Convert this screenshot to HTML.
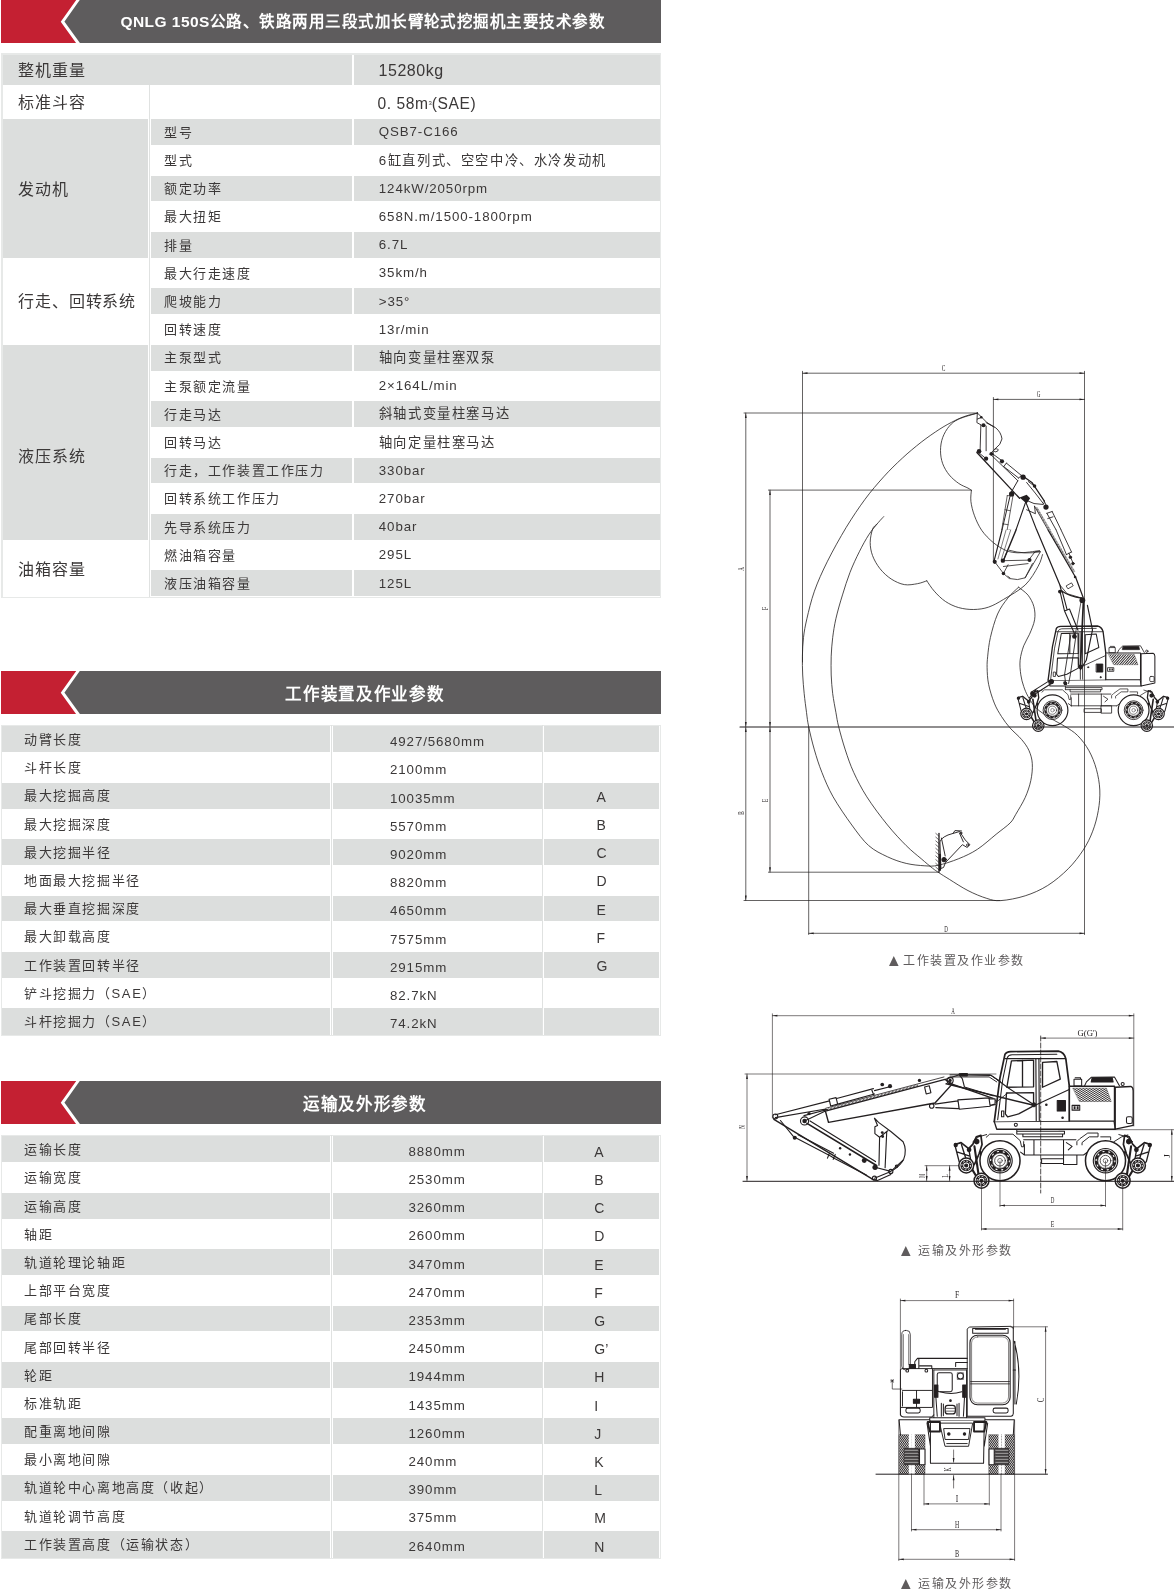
<!DOCTYPE html>
<html lang="zh-CN"><head><meta charset="utf-8"><title>QNLG 150S</title>
<style>
html,body{margin:0;padding:0;background:#fff;}
body{width:1174px;height:1590px;position:relative;overflow:hidden;font-family:"Liberation Sans",sans-serif;color:#3b3838;}
.b{position:absolute;}
#pg{position:absolute;left:0;top:0;width:1174px;height:1590px;will-change:transform;}
.g{position:absolute;background:#dcdedd;}
.t{position:absolute;white-space:nowrap;font-size:13px;letter-spacing:1.6px;line-height:20px;height:20px;}
.v{position:absolute;white-space:nowrap;font-size:13.3px;letter-spacing:0.9px;line-height:20px;height:20px;}
.c{position:absolute;white-space:nowrap;font-size:16px;letter-spacing:0.9px;line-height:22px;height:22px;}
.h{position:absolute;white-space:nowrap;font-size:16px;font-weight:bold;color:#fff;letter-spacing:0.6px;line-height:24px;height:24px;text-align:center;}
.ln{position:absolute;background:#d3d5d4;}
.cap{position:absolute;white-space:nowrap;font-size:12px;letter-spacing:1.5px;color:#5f5c5d;line-height:16px;}
svg{position:absolute;overflow:visible;}
</style></head><body><div id="pg">

<svg class="b" style="left:0;top:0px" width="662" height="43" viewBox="0 0 662 43"><rect x="1" y="0" width="660" height="43" fill="#5e5c5d"/><polygon points="1,0 77.2,0 60.8,21.7 77.2,43 1,43" fill="#c42032"/><polyline points="78.7,-1 62.6,21.7 78.7,44" fill="none" stroke="#fff" stroke-width="3"/></svg>
<div class="h" style="left:62.8px;width:600px;top:10.1px;font-size:15.5px;letter-spacing:0.47px">QNLG 150S公路、铁路两用三段式加长臂轮式挖掘机主要技术参数</div>
<div class="ln" style="left:1.2px;top:53.4px;width:659.6px;height:1.4px;background:#e7e9e8"></div>
<div class="ln" style="left:1.2px;top:53.4px;width:1.4px;height:544.6px;background:#e7e9e8"></div>
<div class="ln" style="left:1.2px;top:596.8px;width:659.6px;height:1.2px;background:#e7e9e8"></div>
<div class="ln" style="left:659.8px;top:53.4px;width:1.1px;height:544.6px;background:#e7e9e8"></div>
<div class="g" style="left:3px;top:55.0px;width:349px;height:29.7px"></div>
<div class="g" style="left:354px;top:55.0px;width:305.5px;height:29.7px"></div>
<div class="c" style="left:18px;top:59.8px;">整机重量</div>
<div class="c" style="left:378.5px;top:60.1px;letter-spacing:0.55px">15280kg</div>
<div class="ln" style="left:148.8px;top:84.7px;width:1.2px;height:34.4px;background:#e0e2e1"></div>
<div class="c" style="left:18px;top:91.8px;">标准斗容</div>
<div class="c" style="left:377.5px;top:91.8px;letter-spacing:0.55px;font-size:15.6px">0. 58m<span style="font-size:6px;vertical-align:4px;letter-spacing:0">3</span>(SAE)</div>
<div class="g" style="left:150.7px;top:119.1px;width:201.3px;height:25.9px"></div>
<div class="g" style="left:354px;top:119.1px;width:305.5px;height:25.9px"></div>
<div class="t" style="left:164px;top:122.8px;">型号</div>
<div class="v" style="left:378.8px;top:122.3px;">QSB7-C166</div>
<div class="t" style="left:164px;top:151.0px;">型式</div>
<div class="v" style="left:378.8px;top:150.5px;letter-spacing:1.6px">6缸直列式、空空中冷、水冷发动机</div>
<div class="g" style="left:150.7px;top:175.5px;width:201.3px;height:25.9px"></div>
<div class="g" style="left:354px;top:175.5px;width:305.5px;height:25.9px"></div>
<div class="t" style="left:164px;top:179.2px;">额定功率</div>
<div class="v" style="left:378.8px;top:178.8px;">124kW/2050rpm</div>
<div class="t" style="left:164px;top:207.4px;">最大扭矩</div>
<div class="v" style="left:378.8px;top:206.9px;">658N.m/1500-1800rpm</div>
<div class="g" style="left:150.7px;top:231.9px;width:201.3px;height:25.9px"></div>
<div class="g" style="left:354px;top:231.9px;width:305.5px;height:25.9px"></div>
<div class="t" style="left:164px;top:235.6px;">排量</div>
<div class="v" style="left:378.8px;top:235.1px;">6.7L</div>
<div class="t" style="left:164px;top:263.9px;">最大行走速度</div>
<div class="v" style="left:378.8px;top:263.4px;">35km/h</div>
<div class="g" style="left:150.7px;top:288.3px;width:201.3px;height:25.9px"></div>
<div class="g" style="left:354px;top:288.3px;width:305.5px;height:25.9px"></div>
<div class="t" style="left:164px;top:292.0px;">爬坡能力</div>
<div class="v" style="left:378.8px;top:291.5px;">&gt;35°</div>
<div class="t" style="left:164px;top:320.2px;">回转速度</div>
<div class="v" style="left:378.8px;top:319.8px;">13r/min</div>
<div class="g" style="left:150.7px;top:344.7px;width:201.3px;height:25.9px"></div>
<div class="g" style="left:354px;top:344.7px;width:305.5px;height:25.9px"></div>
<div class="t" style="left:164px;top:348.4px;">主泵型式</div>
<div class="v" style="left:378.8px;top:347.9px;letter-spacing:1.6px">轴向变量柱塞双泵</div>
<div class="t" style="left:164px;top:376.6px;">主泵额定流量</div>
<div class="v" style="left:378.8px;top:376.1px;">2×164L/min</div>
<div class="g" style="left:150.7px;top:401.1px;width:201.3px;height:25.9px"></div>
<div class="g" style="left:354px;top:401.1px;width:305.5px;height:25.9px"></div>
<div class="t" style="left:164px;top:404.9px;">行走马达</div>
<div class="v" style="left:378.8px;top:404.4px;letter-spacing:1.6px">斜轴式变量柱塞马达</div>
<div class="t" style="left:164px;top:433.0px;">回转马达</div>
<div class="v" style="left:378.8px;top:432.5px;letter-spacing:1.6px">轴向定量柱塞马达</div>
<div class="g" style="left:150.7px;top:457.5px;width:201.3px;height:25.9px"></div>
<div class="g" style="left:354px;top:457.5px;width:305.5px;height:25.9px"></div>
<div class="t" style="left:164px;top:461.2px;">行走，工作装置工作压力</div>
<div class="v" style="left:378.8px;top:460.8px;">330bar</div>
<div class="t" style="left:164px;top:489.4px;">回转系统工作压力</div>
<div class="v" style="left:378.8px;top:488.9px;">270bar</div>
<div class="g" style="left:150.7px;top:513.9px;width:201.3px;height:25.9px"></div>
<div class="g" style="left:354px;top:513.9px;width:305.5px;height:25.9px"></div>
<div class="t" style="left:164px;top:517.6px;">先导系统压力</div>
<div class="v" style="left:378.8px;top:517.1px;">40bar</div>
<div class="t" style="left:164px;top:545.9px;">燃油箱容量</div>
<div class="v" style="left:378.8px;top:545.4px;">295L</div>
<div class="g" style="left:150.7px;top:570.3px;width:201.3px;height:25.9px"></div>
<div class="g" style="left:354px;top:570.3px;width:305.5px;height:25.9px"></div>
<div class="t" style="left:164px;top:574.0px;">液压油箱容量</div>
<div class="v" style="left:378.8px;top:573.5px;">125L</div>
<div class="g" style="left:3px;top:119.1px;width:145px;height:139.0px"></div>
<div class="g" style="left:3px;top:344.7px;width:145px;height:195.2px"></div>
<div class="ln" style="left:148.8px;top:119.1px;width:1.2px;height:478.0px;background:#e0e2e1"></div>
<div class="c" style="left:18px;top:178.8px;">发动机</div>
<div class="c" style="left:18px;top:291.3px;">行走、回转系统</div>
<div class="c" style="left:18px;top:446.3px;">液压系统</div>
<div class="c" style="left:18px;top:558.8px;">油箱容量</div>
<svg class="b" style="left:0;top:671px" width="662" height="43" viewBox="0 0 662 43"><rect x="1" y="0" width="660" height="43" fill="#5e5c5d"/><polygon points="1,0 77.2,0 60.8,21.7 77.2,43 1,43" fill="#c42032"/><polyline points="78.7,-1 62.6,21.7 78.7,44" fill="none" stroke="#fff" stroke-width="3"/></svg>
<div class="h" style="left:64.8px;width:600px;top:682.1px;font-size:16.5px;letter-spacing:0.65px">工作装置及作业参数</div>
<div class="ln" style="left:1.1px;top:724.6px;width:659.7px;height:1.3px;background:#e7e9e8"></div>
<div class="ln" style="left:1.1px;top:724.6px;width:0.9px;height:310.9px;background:#e7e9e8"></div>
<div class="ln" style="left:1.1px;top:1034.8px;width:659.7px;height:1.0px;background:#e7e9e8"></div>
<div class="ln" style="left:659.8px;top:724.6px;width:1px;height:310.9px;background:#e7e9e8"></div>
<div class="ln" style="left:330.9px;top:725.3px;width:1.2px;height:309.5px;background:#e0e2e1"></div>
<div class="ln" style="left:542.2px;top:725.3px;width:1.2px;height:309.5px;background:#e0e2e1"></div>
<div class="g" style="left:1.9px;top:726.3px;width:328.1px;height:25.9px"></div>
<div class="g" style="left:332.6px;top:726.3px;width:209.2px;height:25.9px"></div>
<div class="g" style="left:543.8px;top:726.3px;width:115.7px;height:25.9px"></div>
<div class="t" style="left:24px;top:730.0px;">动臂长度</div>
<div class="v" style="left:390px;top:732.1px;">4927/5680mm</div>
<div class="t" style="left:24px;top:758.2px;">斗杆长度</div>
<div class="v" style="left:390px;top:760.4px;">2100mm</div>
<div class="g" style="left:1.9px;top:782.7px;width:328.1px;height:25.9px"></div>
<div class="g" style="left:332.6px;top:782.7px;width:209.2px;height:25.9px"></div>
<div class="g" style="left:543.8px;top:782.7px;width:115.7px;height:25.9px"></div>
<div class="t" style="left:24px;top:786.4px;">最大挖掘高度</div>
<div class="v" style="left:390px;top:788.5px;">10035mm</div>
<div class="v" style="left:596.5px;top:786.7px;font-size:14px;letter-spacing:0">A</div>
<div class="t" style="left:24px;top:814.6px;">最大挖掘深度</div>
<div class="v" style="left:390px;top:816.8px;">5570mm</div>
<div class="v" style="left:596.5px;top:814.9px;font-size:14px;letter-spacing:0">B</div>
<div class="g" style="left:1.9px;top:839.1px;width:328.1px;height:25.9px"></div>
<div class="g" style="left:332.6px;top:839.1px;width:209.2px;height:25.9px"></div>
<div class="g" style="left:543.8px;top:839.1px;width:115.7px;height:25.9px"></div>
<div class="t" style="left:24px;top:842.8px;">最大挖掘半径</div>
<div class="v" style="left:390px;top:844.9px;">9020mm</div>
<div class="v" style="left:596.5px;top:843.1px;font-size:14px;letter-spacing:0">C</div>
<div class="t" style="left:24px;top:871.0px;">地面最大挖掘半径</div>
<div class="v" style="left:390px;top:873.1px;">8820mm</div>
<div class="v" style="left:596.5px;top:871.3px;font-size:14px;letter-spacing:0">D</div>
<div class="g" style="left:1.9px;top:895.5px;width:328.1px;height:25.9px"></div>
<div class="g" style="left:332.6px;top:895.5px;width:209.2px;height:25.9px"></div>
<div class="g" style="left:543.8px;top:895.5px;width:115.7px;height:25.9px"></div>
<div class="t" style="left:24px;top:899.2px;">最大垂直挖掘深度</div>
<div class="v" style="left:390px;top:901.4px;">4650mm</div>
<div class="v" style="left:596.5px;top:899.5px;font-size:14px;letter-spacing:0">E</div>
<div class="t" style="left:24px;top:927.4px;">最大卸载高度</div>
<div class="v" style="left:390px;top:929.5px;">7575mm</div>
<div class="v" style="left:596.5px;top:927.7px;font-size:14px;letter-spacing:0">F</div>
<div class="g" style="left:1.9px;top:951.9px;width:328.1px;height:25.9px"></div>
<div class="g" style="left:332.6px;top:951.9px;width:209.2px;height:25.9px"></div>
<div class="g" style="left:543.8px;top:951.9px;width:115.7px;height:25.9px"></div>
<div class="t" style="left:24px;top:955.6px;">工作装置回转半径</div>
<div class="v" style="left:390px;top:957.8px;">2915mm</div>
<div class="v" style="left:596.5px;top:955.9px;font-size:14px;letter-spacing:0">G</div>
<div class="t" style="left:24px;top:983.8px;">铲斗挖掘力（SAE）</div>
<div class="v" style="left:390px;top:985.9px;">82.7kN</div>
<div class="g" style="left:1.9px;top:1008.3px;width:328.1px;height:26.5px"></div>
<div class="g" style="left:332.6px;top:1008.3px;width:209.2px;height:26.5px"></div>
<div class="g" style="left:543.8px;top:1008.3px;width:115.7px;height:26.5px"></div>
<div class="t" style="left:24px;top:1012.0px;">斗杆挖掘力（SAE）</div>
<div class="v" style="left:390px;top:1014.1px;">74.2kN</div>
<svg class="b" style="left:0;top:1080.7px" width="662" height="43" viewBox="0 0 662 43"><rect x="1" y="0" width="660" height="43" fill="#5e5c5d"/><polygon points="1,0 77.2,0 60.8,21.7 77.2,43 1,43" fill="#c42032"/><polyline points="78.7,-1 62.6,21.7 78.7,44" fill="none" stroke="#fff" stroke-width="3"/></svg>
<div class="h" style="left:64.8px;width:600px;top:1091.8px;font-size:16.5px;letter-spacing:0.65px">运输及外形参数</div>
<div class="ln" style="left:1.1px;top:1134.6px;width:659.7px;height:1.3px;background:#e7e9e8"></div>
<div class="ln" style="left:1.1px;top:1134.6px;width:0.9px;height:423.7px;background:#e7e9e8"></div>
<div class="ln" style="left:1.1px;top:1557.6px;width:659.7px;height:1.0px;background:#e7e9e8"></div>
<div class="ln" style="left:659.8px;top:1134.6px;width:1px;height:423.7px;background:#e7e9e8"></div>
<div class="ln" style="left:330.9px;top:1135.3px;width:1.2px;height:422.3px;background:#e0e2e1"></div>
<div class="ln" style="left:542.2px;top:1135.3px;width:1.2px;height:422.3px;background:#e0e2e1"></div>
<div class="g" style="left:1.9px;top:1136.3px;width:328.1px;height:25.9px"></div>
<div class="g" style="left:332.6px;top:1136.3px;width:209.2px;height:25.9px"></div>
<div class="g" style="left:543.8px;top:1136.3px;width:115.7px;height:25.9px"></div>
<div class="t" style="left:24px;top:1140.0px;">运输长度</div>
<div class="v" style="left:408.5px;top:1141.8px;">8880mm</div>
<div class="v" style="left:594.3px;top:1141.8px;font-size:14px;letter-spacing:0">A</div>
<div class="t" style="left:24px;top:1168.2px;">运输宽度</div>
<div class="v" style="left:408.5px;top:1170.0px;">2530mm</div>
<div class="v" style="left:594.3px;top:1170.0px;font-size:14px;letter-spacing:0">B</div>
<div class="g" style="left:1.9px;top:1192.7px;width:328.1px;height:25.9px"></div>
<div class="g" style="left:332.6px;top:1192.7px;width:209.2px;height:25.9px"></div>
<div class="g" style="left:543.8px;top:1192.7px;width:115.7px;height:25.9px"></div>
<div class="t" style="left:24px;top:1196.5px;">运输高度</div>
<div class="v" style="left:408.5px;top:1198.2px;">3260mm</div>
<div class="v" style="left:594.3px;top:1198.2px;font-size:14px;letter-spacing:0">C</div>
<div class="t" style="left:24px;top:1224.6px;">轴距</div>
<div class="v" style="left:408.5px;top:1226.3px;">2600mm</div>
<div class="v" style="left:594.3px;top:1226.3px;font-size:14px;letter-spacing:0">D</div>
<div class="g" style="left:1.9px;top:1249.1px;width:328.1px;height:25.9px"></div>
<div class="g" style="left:332.6px;top:1249.1px;width:209.2px;height:25.9px"></div>
<div class="g" style="left:543.8px;top:1249.1px;width:115.7px;height:25.9px"></div>
<div class="t" style="left:24px;top:1252.8px;">轨道轮理论轴距</div>
<div class="v" style="left:408.5px;top:1254.5px;">3470mm</div>
<div class="v" style="left:594.3px;top:1254.5px;font-size:14px;letter-spacing:0">E</div>
<div class="t" style="left:24px;top:1281.0px;">上部平台宽度</div>
<div class="v" style="left:408.5px;top:1282.8px;">2470mm</div>
<div class="v" style="left:594.3px;top:1282.8px;font-size:14px;letter-spacing:0">F</div>
<div class="g" style="left:1.9px;top:1305.5px;width:328.1px;height:25.9px"></div>
<div class="g" style="left:332.6px;top:1305.5px;width:209.2px;height:25.9px"></div>
<div class="g" style="left:543.8px;top:1305.5px;width:115.7px;height:25.9px"></div>
<div class="t" style="left:24px;top:1309.2px;">尾部长度</div>
<div class="v" style="left:408.5px;top:1311.0px;">2353mm</div>
<div class="v" style="left:594.3px;top:1311.0px;font-size:14px;letter-spacing:0">G</div>
<div class="t" style="left:24px;top:1337.5px;">尾部回转半径</div>
<div class="v" style="left:408.5px;top:1339.2px;">2450mm</div>
<div class="v" style="left:594.3px;top:1339.2px;font-size:14px;letter-spacing:0">G’</div>
<div class="g" style="left:1.9px;top:1361.9px;width:328.1px;height:25.9px"></div>
<div class="g" style="left:332.6px;top:1361.9px;width:209.2px;height:25.9px"></div>
<div class="g" style="left:543.8px;top:1361.9px;width:115.7px;height:25.9px"></div>
<div class="t" style="left:24px;top:1365.6px;">轮距</div>
<div class="v" style="left:408.5px;top:1367.3px;">1944mm</div>
<div class="v" style="left:594.3px;top:1367.3px;font-size:14px;letter-spacing:0">H</div>
<div class="t" style="left:24px;top:1393.8px;">标准轨距</div>
<div class="v" style="left:408.5px;top:1395.5px;">1435mm</div>
<div class="v" style="left:594.3px;top:1395.5px;font-size:14px;letter-spacing:0">I</div>
<div class="g" style="left:1.9px;top:1418.3px;width:328.1px;height:25.9px"></div>
<div class="g" style="left:332.6px;top:1418.3px;width:209.2px;height:25.9px"></div>
<div class="g" style="left:543.8px;top:1418.3px;width:115.7px;height:25.9px"></div>
<div class="t" style="left:24px;top:1422.0px;">配重离地间隙</div>
<div class="v" style="left:408.5px;top:1423.8px;">1260mm</div>
<div class="v" style="left:594.3px;top:1423.8px;font-size:14px;letter-spacing:0">J</div>
<div class="t" style="left:24px;top:1450.2px;">最小离地间隙</div>
<div class="v" style="left:408.5px;top:1452.0px;">240mm</div>
<div class="v" style="left:594.3px;top:1452.0px;font-size:14px;letter-spacing:0">K</div>
<div class="g" style="left:1.9px;top:1474.7px;width:328.1px;height:25.9px"></div>
<div class="g" style="left:332.6px;top:1474.7px;width:209.2px;height:25.9px"></div>
<div class="g" style="left:543.8px;top:1474.7px;width:115.7px;height:25.9px"></div>
<div class="t" style="left:24px;top:1478.4px;">轨道轮中心离地高度（收起）</div>
<div class="v" style="left:408.5px;top:1480.1px;">390mm</div>
<div class="v" style="left:594.3px;top:1480.1px;font-size:14px;letter-spacing:0">L</div>
<div class="t" style="left:24px;top:1506.6px;">轨道轮调节高度</div>
<div class="v" style="left:408.5px;top:1508.3px;">375mm</div>
<div class="v" style="left:594.3px;top:1508.3px;font-size:14px;letter-spacing:0">M</div>
<div class="g" style="left:1.9px;top:1531.1px;width:328.1px;height:26.5px"></div>
<div class="g" style="left:332.6px;top:1531.1px;width:209.2px;height:26.5px"></div>
<div class="g" style="left:543.8px;top:1531.1px;width:115.7px;height:26.5px"></div>
<div class="t" style="left:24px;top:1534.8px;">工作装置高度（运输状态）</div>
<div class="v" style="left:408.5px;top:1536.5px;">2640mm</div>
<div class="v" style="left:594.3px;top:1536.5px;font-size:14px;letter-spacing:0">N</div>
<svg class="b" style="left:889.2px;top:956.0px" width="10" height="10" viewBox="0 0 10 10"><polygon points="0,10 9.6,10 4.8,0" fill="#5f5c5d"/></svg>
<div class="cap" style="left:903.4px;top:952.9px">工作装置及作业参数</div>
<svg class="b" style="left:901px;top:1245.8px" width="10" height="10" viewBox="0 0 10 10"><polygon points="0,10 9.6,10 4.8,0" fill="#5f5c5d"/></svg>
<div class="cap" style="left:918.4px;top:1242.7px">运输及外形参数</div>
<svg class="b" style="left:901px;top:1578.6px" width="10" height="10" viewBox="0 0 10 10"><polygon points="0,10 9.6,10 4.8,0" fill="#5f5c5d"/></svg>
<div class="cap" style="left:918.4px;top:1575.5px">运输及外形参数</div>
<svg width="0" height="0" style="left:0;top:0"><defs>
<pattern id="hat" patternUnits="userSpaceOnUse" width="9" height="9" patternTransform="rotate(-58)"><rect width="9" height="9" fill="#fff"/><rect width="4.3" height="9" fill="#231f20"/></pattern>
<pattern id="hat2" patternUnits="userSpaceOnUse" width="12" height="12" patternTransform="rotate(35)"><rect width="12" height="12" fill="#fff"/><rect width="7" height="12" fill="#231f20"/></pattern>
<g id="whl" fill="none" stroke="#231f20"><circle r="105" stroke-width="8" fill="#fff"/><circle r="64" stroke-width="6"/><circle r="49" stroke-width="16"/><circle r="49" stroke-width="6" stroke="#fff" stroke-dasharray="6 24.8"/><circle r="40" stroke-width="3"/><circle r="28" stroke-width="4"/><circle r="12" stroke-width="3"/></g>
<g id="rwh" fill="none" stroke="#231f20"><circle r="39" stroke-width="8" fill="#fff"/><circle r="23" stroke-width="15"/><circle r="23" stroke-width="5" stroke="#fff" stroke-dasharray="5 13.06"/><circle r="8" fill="#231f20"/></g>
<g id="brk" fill="none" stroke="#231f20" stroke-width="9"><path d="M25,600L58,590L98,622L120,598L138,560L162,552L168,600L152,650L130,700L112,720"/><path d="M25,600L48,690L62,705M60,600L85,680M98,622L110,690M40,640L100,660" stroke-width="7"/><path d="M128,610L150,760M160,640L188,765M110,720L140,770" stroke-width="11"/><path d="M120,585L150,560L192,548" stroke-width="5"/><circle cx="140" cy="585" r="10" fill="#231f20"/><circle cx="100" cy="628" r="8" fill="#231f20"/><circle cx="30" cy="603" r="7" fill="#231f20"/></g>
<g id="mach" fill="none" stroke="#231f20" stroke-width="5.5" stroke-linejoin="round" stroke-linecap="round">
<path d="M350,522L350,545M352,531L600,531L600,545L352,545M382,545L382,560L590,560L590,545" />
<path d="M190,562L208,546L330,546L368,580L375,612L386,612L386,585M665,602L665,585L680,570L722,540L776,540L776,560L730,560L692,590L692,602M790,560L842,560L842,575M860,585L900,560L932,550" stroke-width="5"/>
<path d="M386,575L660,575M390,655L700,655M390,600L390,655M440,575L440,655M595,575L595,655M595,655L665,655L665,705L595,705ZM480,675L595,675L595,700L480,700ZM370,640L390,655M610,590L640,610L620,628M700,655L720,640"/>
<use href="#brk"/><use href="#brk" transform="translate(1077,0) scale(-1,1)"/>
<use href="#rwh" x="85" y="710"/><use href="#rwh" x="985" y="710"/>
<use href="#whl" x="262" y="685"/><use href="#whl" x="815" y="685"/>
<use href="#rwh" x="165" y="790"/><use href="#rwh" x="905" y="790"/>
<path d="M232,480L860,476M232,480L245,520L866,520M860,476L866,520" stroke-width="7" fill="#fff"/>
<circle cx="345" cy="497" r="8"/>
<path d="M232,480L240,420L262,250L288,128Q294,115 318,113L568,111Q598,116 607,150L625,292L625,476" stroke-width="9" fill="#fff"/>
<path d="M250,470L276,262L300,146Q305,132 325,130L560,127M290,150L605,150" stroke-width="5.5"/>
<path d="M322,162L438,158L438,298L298,300ZM380,160L380,298M296,330L438,328L438,398L360,440L302,455L290,440ZM485,170L560,165L578,258L485,300Z" stroke-width="7"/>
<path d="M450,150L452,474M466,150L468,474" stroke-width="6"/>
<path d="M452,392L625,312M270,425L282,425L282,455L270,455Z"/>
<path d="M625,295L862,295L862,476M866,300L948,296Q960,300 960,318L960,500L866,520L866,300" stroke-width="7" fill="#fff"/>
<path d="M645,305L820,305L845,375L680,375Z" fill="url(#hat)" stroke-width="2"/>
<path d="M650,258L690,258L690,293L650,293ZM656,250L684,250L684,258M705,293L715,272L740,248L862,246L888,292"/>
<path d="M745,250L850,250L855,272L740,272Z" fill="#231f20"/><circle cx="905" cy="283" r="8"/>
<path d="M562,370L605,370L605,425L562,425Z" fill="#231f20"/><path d="M640,395L680,395L680,420L640,420Z"/><path d="M648,400L658,400L658,415L648,415ZM664,400L674,400L674,415L664,415Z" fill="#231f20" stroke="none"/>
<rect x="925" y="455" width="30" height="35" rx="8"/><circle cx="590" cy="460" r="4" fill="#231f20"/><circle cx="505" cy="392" r="4" fill="#231f20"/>
</g>
<pattern id="hat3" patternUnits="userSpaceOnUse" width="8" height="11"><rect width="8" height="11" fill="#fff"/><rect width="8" height="8" fill="#231f20"/></pattern>
</defs></svg>
<svg style="left:0;top:0" width="1174" height="1000" viewBox="0 0 1174 1000" fill="none" stroke="#231f20" stroke-linecap="round" stroke-linejoin="round">
<use href="#mach" transform="translate(1014.07,609.73) scale(0.14667)"/>
<g transform="translate(1014.07,609.73) scale(0.14667)" stroke-width="7"><path d="M120,560L250,478M135,580L262,498M105,600L150,545"/><circle cx="255" cy="490" r="14" fill="#231f20"/><circle cx="125" cy="572" r="12" fill="#231f20"/></g>
<clipPath id="clA"><rect x="0" y="0" width="1400" height="1420"/></clipPath><g transform="translate(965,405) scale(0.08803)" stroke-width="10" clip-path="url(#clA)"><path d="M140,90L185,135L250,200L350,260Q410,310 420,385Q410,450 340,500L280,560M140,90L135,200L180,225M140,160L190,140M240,200L330,250M340,500Q385,490 375,520Q350,545 328,525"/><path d="M180,230L172,505M240,240L240,520"/><path d="M135,540L620,1060" stroke-width="15"/><path d="M300,545L430,640M470,660L640,800M440,700L610,830M470,660L440,700M640,800L610,830M300,570L600,860M160,545L240,610"/><path d="M660,810L760,880L900,1090" stroke-width="14"/><path d="M690,1080Q780,1135 890,1130Q905,1110 900,1090M700,880Q800,1000 890,1120M720,870L800,930"/><path d="M600,860L520,1000L380,1590" stroke-width="11"/><path d="M690,1100L520,1590" stroke-width="13"/><path d="M480,1030L390,1590M545,1030L450,1590M480,1030L545,1030M455,1190L510,1200M430,1350L490,1360M500,1420L540,1430M470,1520L515,1530" stroke-width="8"/><path d="M690,1100L880,1590" stroke-width="13"/><path d="M790,1150L1040,1590" stroke-width="9"/><path d="M812,1165L1062,1590" stroke-width="22" stroke-dasharray="4 5" stroke-linecap="butt"/><path d="M700,1190L800,1235L790,1150M930,1230L1130,1590M990,1210L1160,1560M930,1230L990,1210M900,1090L935,1170M940,1290L1000,1270"/><g fill="#231f20" stroke="none"><circle cx="210" cy="230" r="24"/><circle cx="160" cy="525" r="26"/><circle cx="300" cy="555" r="22"/><circle cx="240" cy="610" r="24"/><circle cx="420" cy="640" r="24"/><circle cx="660" cy="820" r="30"/><path d="M620,1050L700,1020L740,1060L700,1120Z"/><circle cx="530" cy="1010" r="30"/><circle cx="920" cy="1160" r="30"/><circle cx="790" cy="920" r="20"/><circle cx="185" cy="140" r="14"/></g></g>
<g transform="translate(960,530) scale(0.1448)" stroke-width="5.5"><path d="M290,0L235,215" stroke-width="8"/><path d="M387,0L300,210" stroke-width="10"/><path d="M318,0L262,200M350,0L285,205" stroke-width="4"/><path d="M240,220L300,300L340,335Q400,352 450,330L555,150L520,148L480,200M295,212L480,208M300,252L470,232M300,300L332,240M450,330L500,232M340,140Q450,172 555,150M325,150L300,210M330,320L345,330"/><path d="M530,0L690,380L700,420Q760,462 840,470" stroke-width="8.5"/><path d="M608,0L800,330L850,465" stroke-width="8.5"/><path d="M616,0L790,290" stroke-width="14" stroke-dasharray="2.5 3" stroke-linecap="butt"/><path d="M664,0L735,170M698,0L770,152M735,170L770,152M752,160L778,222" stroke-width="6"/><circle cx="762" cy="188" r="9" fill="#231f20"/><circle cx="780" cy="232" r="9" fill="#231f20"/><path d="M690,420L722,560L795,725M756,546L815,692M722,560L756,546M705,420L740,552" stroke-width="7.5"/><path d="M735,385L770,365L782,385L748,405ZM690,380L740,440L840,470"/><path d="M835,500L800,700L790,735" stroke-width="5"/><path d="M852,500L832,940" stroke-width="12"/><path d="M880,520L915,690L872,900L832,965" stroke-width="8"/><path d="M815,720L818,930" stroke-width="6"/><path d="M765,725L722,1000L730,1062M800,735L762,1000L750,1060" stroke-width="6"/><g fill="#231f20" stroke="none"><circle cx="240" cy="220" r="14"/><circle cx="296" cy="212" r="15"/><circle cx="480" cy="207" r="14"/><circle cx="300" cy="300" r="12"/><circle cx="845" cy="485" r="20"/><circle cx="690" cy="425" r="13"/><circle cx="790" cy="735" r="16"/><circle cx="832" cy="945" r="16"/><circle cx="728" cy="1060" r="13"/><circle cx="795" cy="325" r="9"/></g></g>
<path d="M802.5,373.2L1084.5,373.2M802.5,371.3L802.5,662M1084.5,371.3L1084.5,934.5M993.4,399.4L1084.5,399.4M993.4,397.5L993.4,562M744,413L977.4,413M745.8,413L745.8,900.5M768.4,490.1L971,490.1M770,490.1L770,872.2M768.4,872.2L939,872.2M744,900.5L1000,900.5M808.7,727L808.7,934.5M808.7,933.3L1084.5,933.3" stroke-width="0.7"/>
<path d="M740,727L1174,727" stroke-width="1.15"/>
<path d="M802.5,373.2L807.5,372.3L807.5,374.1ZM1084.5,373.2L1079.5,374.1L1079.5,372.3ZM993.4,399.4L998.4,398.5L998.4,400.3ZM1084.5,399.4L1079.5,400.3L1079.5,398.5ZM745.8,413L746.7,418.0L744.9,418.0ZM745.8,727L744.9,722.0L746.7,722.0ZM745.8,727L746.7,732.0L744.9,732.0ZM745.8,900.5L744.9,895.5L746.7,895.5ZM770,490.1L770.9,495.1L769.1,495.1ZM770,727L769.1,722.0L770.9,722.0ZM770,727L770.9,732.0L769.1,732.0ZM770,872.2L769.1,867.2L770.9,867.2ZM808.7,933.3L813.7,932.4L813.7,934.2ZM1084.5,933.3L1079.5,934.2L1079.5,932.4Z" fill="#231f20" stroke="none"/>
<path d="M883.7,516.6C882.8,517.6 880.6,519.8 878.1,522.8C875.6,525.8 871.8,530.1 868.7,534.9C865.6,539.7 862.4,545.5 859.3,551.8C856.2,558.0 852.8,565.2 850.0,572.4C847.2,579.6 844.9,587.2 842.5,594.9C840.1,602.6 837.5,611.6 835.9,618.7C834.3,625.8 833.5,631.2 832.7,637.5C831.9,643.8 831.5,650.0 831.2,656.2C831.0,662.5 831.0,668.8 831.2,675.0C831.5,681.2 831.9,687.5 832.7,693.7C833.5,699.9 834.9,706.9 835.9,712.4C836.9,717.9 837.1,720.6 838.7,726.9C840.3,733.1 842.8,742.3 845.3,749.9C847.8,757.5 850.1,764.6 853.7,772.4C857.3,780.2 861.2,788.0 866.8,796.8C872.4,805.6 880.9,816.9 887.5,825.0C894.1,833.1 900.6,840.0 906.2,845.6C911.8,851.2 916.8,855.0 921.2,858.7C925.6,862.5 929.4,865.8 932.4,868.1C935.4,870.5 936.2,870.9 939.0,872.8C941.8,874.7 944.5,876.3 949.3,879.3C954.1,882.3 961.8,887.4 968.0,890.6C974.2,893.8 981.3,896.7 986.8,898.4C992.3,900.1 994.4,901.0 1000.8,900.6C1007.2,900.2 1017.4,898.3 1025.2,895.8C1033.0,893.3 1040.5,890.0 1047.7,885.5C1054.9,881.0 1062.4,874.6 1068.3,868.7C1074.2,862.8 1079.2,856.1 1083.3,849.9C1087.4,843.6 1090.2,837.8 1092.7,831.2C1095.2,824.7 1097.1,817.5 1098.3,810.6C1099.5,803.7 1100.1,796.9 1099.8,790.0C1099.5,783.1 1098.2,775.9 1096.4,769.3C1094.6,762.7 1092.0,756.2 1088.9,750.6C1085.8,745.0 1081.8,739.7 1077.7,735.6C1073.7,731.5 1069.0,729.0 1064.6,726.2C1060.2,723.4 1056.1,721.7 1051.4,718.7C1046.7,715.7 1040.4,712.1 1036.5,708.4C1032.6,704.7 1030.2,700.2 1028.1,696.5C1026.0,692.8 1024.9,690.0 1023.7,686.4C1022.5,682.8 1021.4,679.1 1020.8,674.8C1020.2,670.4 1019.6,665.1 1020.1,660.3C1020.6,655.5 1022.1,650.1 1023.7,645.8C1025.3,641.5 1027.7,638.6 1029.5,634.3C1031.3,630.0 1033.9,624.4 1034.6,619.8C1035.3,615.2 1035.0,610.8 1033.9,606.7C1032.8,602.6 1030.6,598.5 1028.1,595.2C1025.5,592.0 1020.2,588.5 1018.6,587.2 M977.4,413.1C975.5,413.6 970.0,414.6 966.2,415.9C962.5,417.1 959.3,418.4 954.9,420.6C950.5,422.8 945.5,425.4 939.9,429.0C934.3,432.6 927.5,437.3 921.2,442.2C915.0,447.1 908.6,452.3 902.4,458.1C896.1,463.9 889.9,469.9 883.7,476.8C877.5,483.7 871.2,490.9 865.0,499.3C858.8,507.7 852.5,517.1 846.2,527.4C840.0,537.7 832.8,550.6 827.5,561.2C822.2,571.8 817.8,581.6 814.4,591.2C811.0,600.8 808.7,611.0 806.9,618.7C805.1,626.4 804.2,631.2 803.5,637.5C802.8,643.8 802.5,650.0 802.4,656.2C802.3,662.5 802.4,668.8 802.7,675.0C803.0,681.2 803.6,687.5 804.2,693.7C804.8,699.9 805.8,706.9 806.5,712.4C807.2,717.9 807.4,720.6 808.7,726.9C810.0,733.1 812.2,742.3 814.4,749.9C816.6,757.5 818.8,764.6 821.9,772.4C825.0,780.2 828.1,788.0 833.1,796.8C838.1,805.6 845.9,816.9 851.8,825.0C857.7,833.1 862.8,840.3 868.7,845.6C874.7,850.9 881.2,853.8 887.5,856.8C893.8,859.8 900.0,861.9 906.2,863.4C912.4,864.9 919.6,865.5 924.9,865.8C930.2,866.1 932.4,866.5 938.0,865.3C943.6,864.1 952.1,861.4 958.7,858.7C965.3,856.0 971.2,853.4 977.4,849.3C983.6,845.2 990.7,838.7 996.1,834.3C1001.5,829.9 1006.7,826.4 1010.0,823.1C1013.3,819.8 1013.3,818.6 1015.8,814.3C1018.3,810.0 1022.7,803.1 1025.2,797.5C1027.7,791.9 1029.6,786.2 1030.8,780.6C1032.0,775.0 1032.6,768.7 1032.3,763.7C1032.0,758.7 1030.8,754.7 1029.0,750.6C1027.2,746.5 1024.6,743.1 1021.5,739.4C1018.4,735.6 1013.5,731.9 1010.2,728.1C1006.9,724.3 1004.1,720.7 1001.5,716.5C998.9,712.3 996.4,708.5 994.3,703.1C992.1,697.7 989.8,690.2 988.6,684.3C987.4,678.4 987.2,672.2 987.1,667.5C987.0,662.8 987.2,661.2 987.7,656.2C988.2,651.2 988.8,644.5 990.4,637.5C992.0,630.5 994.7,620.6 997.6,614.0C1000.5,607.4 1004.3,602.6 1007.8,598.1C1011.3,593.6 1016.8,589.0 1018.6,587.2 M977.4,413.1C974.3,414.1 963.4,416.9 958.7,419.1C954.0,421.3 952.0,423.1 949.3,426.2C946.6,429.3 944.2,433.4 942.7,437.5C941.2,441.6 940.5,446.2 940.5,450.6C940.5,455.0 941.2,459.6 942.7,463.7C944.2,467.8 946.6,471.7 949.3,475.0C952.0,478.3 955.6,481.2 958.7,483.4C961.8,485.6 965.9,487.0 968.0,488.1C970.1,489.2 970.8,489.9 971.4,490.3 M971.4,490.3C971.3,492.1 970.4,497.1 970.9,501.4C971.4,505.6 972.7,511.0 974.5,515.8C976.3,520.6 978.6,525.8 981.7,530.3C984.8,534.8 989.2,539.2 993.3,542.6C997.4,546.0 1002.2,548.9 1006.3,550.6C1010.4,552.3 1014.0,552.6 1017.9,552.8C1021.8,553.0 1025.9,552.4 1029.5,552.0C1033.1,551.6 1037.9,550.8 1039.6,550.6 M1042.5,554.6C1041.8,556.5 1041.1,561.1 1038.2,566.2C1035.3,571.3 1031.0,579.5 1025.2,585.0C1019.4,590.5 1009.5,595.8 1003.4,599.5C997.3,603.2 993.5,605.4 988.6,607.1C983.7,608.8 978.7,609.4 973.7,609.5C968.7,609.6 963.4,608.9 958.7,607.6C954.0,606.3 949.6,604.2 945.5,601.5C941.4,598.8 937.4,594.7 934.3,591.2C931.2,587.8 928.0,582.5 926.8,580.8 M926.8,580.8C925.2,581.3 921.1,583.1 917.4,583.7C913.6,584.3 908.7,585.4 904.3,584.6C899.9,583.8 895.2,581.6 891.2,579.0C887.2,576.4 883.1,572.6 880.0,568.7C876.9,564.8 874.1,559.9 872.5,555.5C870.9,551.1 870.2,546.8 870.2,542.4C870.2,538.0 871.5,532.3 872.5,529.3C873.5,526.3 875.8,525.3 876.5,524.5" stroke-width="0.8"/>
<g fill="#231f20" stroke="none" font-family="Liberation Serif,serif" font-size="8.5"><text x="943.5" y="371" text-anchor="middle" textLength="3.6" lengthAdjust="spacingAndGlyphs">C</text><text x="1038.5" y="397" text-anchor="middle" textLength="3.6" lengthAdjust="spacingAndGlyphs">G</text><text x="946" y="931.5" text-anchor="middle" textLength="3.6" lengthAdjust="spacingAndGlyphs">D</text><text transform="translate(744,569) rotate(-90)" text-anchor="middle" textLength="3.6" lengthAdjust="spacingAndGlyphs">A</text><text transform="translate(768,608.5) rotate(-90)" text-anchor="middle" textLength="3.6" lengthAdjust="spacingAndGlyphs">F</text><text transform="translate(768,800.5) rotate(-90)" text-anchor="middle" textLength="3.6" lengthAdjust="spacingAndGlyphs">E</text><text transform="translate(744,813) rotate(-90)" text-anchor="middle" textLength="3.6" lengthAdjust="spacingAndGlyphs">B</text></g>
<g transform="translate(790,780) scale(0.18741)" stroke-width="5"><path d="M795,285L795,492" stroke-width="7"/><path d="M795,300L778,285M795,320L778,305M795,340L778,325M795,360L778,345M795,380L778,365M795,400L778,385M795,420L778,405M795,440L778,425M795,460L778,445M795,480L778,465" stroke-width="3.5"/><path d="M805,470L800,330Q810,300 870,285L905,275L935,320L960,345L945,360L920,345L830,440L820,465ZM808,310L828,405M905,285L925,330M870,285L880,270L915,272"/><circle cx="822" cy="425" r="12" fill="#231f20"/><path d="M800,400L800,480" stroke-width="12"/><circle cx="948" cy="347" r="6"/><circle cx="912" cy="283" r="5"/></g>
</svg>
<svg style="left:0;top:0" width="1174" height="1270" viewBox="0 0 1174 1270" fill="none" stroke="#231f20" stroke-linecap="round" stroke-linejoin="round">
<use href="#mach" transform="translate(950,1030) scale(0.1908)"/>
<g transform="translate(950,1030) scale(0.1908)" stroke-width="4.5"><path d="M0,235L210,235L250,262M0,246L205,246L245,272" stroke-width="5"/><path d="M-20,282L440,395" stroke-width="8"/><path d="M250,262L300,300L440,392" stroke-width="6"/><path d="M45,370L208,360L214,396L50,410ZM214,370L240,368L245,390L214,396M240,380L300,332" fill="#fff"/><path d="M50,228L90,228L90,240L50,240Z" fill="#231f20"/><circle cx="440" cy="392" r="11" fill="#231f20"/><circle cx="222" cy="380" r="9" fill="#231f20"/></g>
<g transform="translate(760,1060) scale(0.20442)" stroke-width="5.5"><path d="M320,250L905,95L940,118L856,210L335,305Z" stroke-width="7"/><path d="M322,236L900,83" stroke-width="4"/><path d="M336,240L772,124" stroke-width="9" stroke-dasharray="3 4" stroke-linecap="butt"/><path d="M805,132L828,126L836,160L813,166Z"/><path d="M75,268L340,200M75,282L322,240M338,192L372,184L380,216L346,225ZM375,188L555,140M380,216L560,166M545,142L556,170M560,150L640,130M218,298L320,250M215,272L330,242"/><path d="M68,290L548,582" stroke-width="7"/><path d="M230,310L570,516" stroke-width="8.5"/><path d="M100,296L162,372M245,298L565,497"/><path d="M165,376L345,470L365,482L520,562M186,366L360,456M340,456L330,480M368,462L358,486" /><path d="M560,578L640,545L700,490M563,525L640,545M548,582L575,590L640,560"/><path d="M560,285L580,305L640,350L700,400Q720,440 703,485Q690,512 650,540M560,285L575,320L562,326L562,360L585,378L582,515M585,378L625,346M620,350L612,527"/><path d="M940,118L1140,188" stroke-width="7"/><path d="M905,95L975,72L1130,75L1176,106M975,72L990,92L1000,132M1000,132L1140,175"/><path d="M856,216L968,200M860,233L970,238M968,195L1120,185L1126,226L975,241ZM1120,190L1150,190L1150,216L1126,221" fill="#fff"/><g fill="#231f20" stroke="none"><circle cx="598" cy="120" r="9"/><circle cx="636" cy="128" r="10"/><circle cx="780" cy="100" r="8"/><circle cx="218" cy="298" r="11"/><circle cx="930" cy="100" r="8"/><circle cx="563" cy="525" r="13"/><circle cx="510" cy="492" r="12"/><circle cx="170" cy="380" r="10"/><circle cx="598" cy="355" r="7"/><circle cx="600" cy="374" r="7"/><path d="M985,64L1016,64L1016,80L985,80Z"/><circle cx="392" cy="432" r="6"/><circle cx="440" cy="462" r="6"/><circle cx="240" cy="262" r="8"/></g><circle cx="75" cy="276" r="12"/><circle cx="218" cy="298" r="20"/><circle cx="930" cy="100" r="15"/><circle cx="840" cy="225" r="11"/><circle cx="560" cy="578" r="10"/><circle cx="640" cy="545" r="10"/><circle cx="668" cy="520" r="6"/></g>
<path d="M772.4,1015.7L1133.8,1015.7M772.4,1013.8L772.4,1118M1133.8,1013.8L1133.8,1126M1040.7,1038.1L1133.8,1038.1M745,1074L996,1074M747,1074L747,1181M1059,1129.7L1174,1129.7M1171.8,1129.7L1171.8,1181M925,1165.7L958,1165.7M926.7,1165.7L926.7,1181M949.6,1165.7L949.6,1181M1000,1161L1000,1206.5M1105.5,1161L1105.5,1206.5M1000,1205.5L1105.5,1205.5M981.5,1181L981.5,1230M1122.7,1181L1122.7,1230M981.5,1229L1122.7,1229" stroke-width="0.6"/>
<path d="M1040.7,1036L1040.7,1193" stroke-width="0.8" stroke-dasharray="5 2"/>
<path d="M743,1181.3L1174,1181.3" stroke-width="1"/>
<path d="M772.4,1015.7L777.4,1014.8L777.4,1016.6ZM1133.8,1015.7L1128.8,1016.6L1128.8,1014.8ZM1040.7,1038.1L1045.7,1037.2L1045.7,1039.0ZM1133.8,1038.1L1128.8,1039.0L1128.8,1037.2ZM747,1074L747.9,1079.0L746.1,1079.0ZM747,1181L746.1,1176.0L747.9,1176.0ZM1171.8,1129.7L1172.7,1134.7L1170.9,1134.7ZM1171.8,1181L1170.9,1176.0L1172.7,1176.0ZM926.7,1165.7L927.6,1170.7L925.8,1170.7ZM926.7,1181L925.8,1176.0L927.6,1176.0ZM949.6,1165.7L950.5,1170.7L948.7,1170.7ZM949.6,1181L948.7,1176.0L950.5,1176.0ZM1000,1205.5L1005.0,1204.6L1005.0,1206.4ZM1105.5,1205.5L1100.5,1206.4L1100.5,1204.6ZM981.5,1229L986.5,1228.1L986.5,1229.9ZM1122.7,1229L1117.7,1229.9L1117.7,1228.1Z" fill="#231f20" stroke="none"/>
<g fill="#231f20" stroke="none" font-family="Liberation Serif,serif" font-size="9"><text x="953" y="1013.5" text-anchor="middle" textLength="3.6" lengthAdjust="spacingAndGlyphs">A</text><text x="1087.5" y="1035.5" text-anchor="middle" textLength="20" lengthAdjust="spacingAndGlyphs">G(G')</text><text transform="translate(745,1127) rotate(-90)" text-anchor="middle" textLength="3.6" lengthAdjust="spacingAndGlyphs">N</text><text transform="translate(924.5,1176) rotate(-90)" text-anchor="middle" textLength="3.6" lengthAdjust="spacingAndGlyphs">M</text><text transform="translate(947.5,1176) rotate(-90)" text-anchor="middle" textLength="3.6" lengthAdjust="spacingAndGlyphs">L</text><text x="1052.5" y="1203" text-anchor="middle" textLength="3.6" lengthAdjust="spacingAndGlyphs">D</text><text x="1052.5" y="1227" text-anchor="middle" textLength="3.6" lengthAdjust="spacingAndGlyphs">E</text><text transform="translate(1169.5,1156) rotate(-90)" text-anchor="middle" textLength="3.6" lengthAdjust="spacingAndGlyphs">J</text></g>
</svg>
<svg style="left:0;top:0" width="1174" height="1590" viewBox="0 0 1174 1590" fill="none" stroke="#231f20" stroke-linecap="round" stroke-linejoin="round">
<g transform="translate(880,1310) scale(0.13629)" stroke-width="7.5"><path d="M142,915L330,915L330,1205L142,1205ZM800,915L985,915L985,1205L800,1205Z" fill="url(#hat2)" stroke-width="3"/><path d="M222,915L222,1205M245,915L245,1205M880,915L880,1205M905,915L905,1205" stroke="#fff" stroke-width="22"/><path d="M180,1015L282,1015L282,1135L180,1135ZM845,1015L945,1015L945,1135L845,1135Z" fill="url(#hat3)" stroke-width="5"/><path d="M290,1020L330,1020L330,1135L290,1135ZM800,1020L838,1020L838,1135L800,1135Z" fill="#fff"/><path d="M140,805L365,805M770,805L985,805M140,805L150,915M985,805L978,915M365,790L770,790L770,815L365,815Z"/><path d="M370,815L370,1125L760,1125L765,815M345,830L370,1000M790,830L765,1000" fill="#fff"/><path d="M350,822L440,822L440,892L365,892ZM690,822L780,822L765,892L690,892Z" stroke-width="14"/><path d="M440,830L680,830L650,1000L480,1000ZM470,870L660,870L650,950L480,950ZM490,980L640,980" stroke-width="7"/><circle cx="505" cy="910" r="9" fill="#231f20"/><circle cx="620" cy="910" r="9" fill="#231f20"/><path d="M150,715L150,768Q155,785 175,785L380,785L395,770M640,780L962,780Q978,775 978,760L978,125" /><rect x="190" y="720" width="105" height="35" rx="14"/><rect x="830" y="720" width="110" height="35" rx="14"/><path d="M640,780L640,140L655,125L960,120L978,135" stroke-width="7"/><path d="M680,135L940,135L940,170L680,170Z"/><path d="M700,140L920,140" stroke-width="9"/><rect x="660" y="185" width="295" height="510" rx="55" stroke-width="8"/><rect x="672" y="197" width="271" height="486" rx="45" stroke-width="4"/><path d="M665,525L950,525M665,542L950,542" stroke-width="6"/><path d="M985,230Q1045,450 1000,690M990,232L990,690M978,440L995,440"/><rect x="160" y="150" width="62" height="290" rx="28" stroke-width="6"/><path d="M172,180L172,430M210,180L210,400" stroke-width="4"/><path d="M165,430L385,430L385,715L150,715L150,440ZM165,590L385,590M268,590L268,715M165,600L165,705" stroke-width="7"/><path d="M245,655L290,655L290,685L245,685Z" fill="#231f20"/><circle cx="200" cy="445" r="10"/><circle cx="340" cy="445" r="10"/><path d="M215,400L260,400L260,430L215,430Z" fill="#231f20"/><path d="M290,410L380,410L380,430" /><path d="M90,515L90,580L160,580M78,520L100,520M82,510L98,530M98,510L82,530" stroke-width="5"/><path d="M255,380L275,355L640,355M255,380L255,430M285,360L285,430M555,385L640,385M555,385L555,415"/><path d="M395,440L635,440M395,440L395,790M635,440L635,790M385,430L640,430" stroke-width="7"/><rect x="420" y="460" width="110" height="140" rx="14"/><circle cx="590" cy="485" r="22"/><path d="M570,460L612,460L612,510L570,510Z" stroke-width="4"/><path d="M400,550L425,550L425,640L400,640ZM607,550L630,550L630,640L607,640Z" fill="#231f20"/><path d="M440,600Q520,625 600,600M410,640L420,780M620,640L612,780M450,685L450,780M580,685L580,780M465,690L465,775M565,690L565,775"/><rect x="478" y="700" width="75" height="62" rx="20" stroke-width="9"/><path d="M485,722L548,722M485,742L548,742" stroke-width="5"/><circle cx="517" cy="665" r="6" fill="#231f20"/></g>
<path d="M900.4,1300.6L1013.6,1300.6M900.4,1299L900.4,1415M1013.6,1299L1013.6,1327M1010.5,1326.8L1047.5,1326.8M1045.6,1326.8L1045.6,1474M924,1474L924,1505M989.3,1474L989.3,1505M924,1503.9L989.3,1503.9M911.5,1474L911.5,1531M1001,1474L1001,1531M911.5,1529.7L1001,1529.7M898.8,1420L898.8,1560.5M1014.6,1420L1014.6,1560.5M898.8,1559.3L1014.6,1559.3M953.6,1450L953.6,1462M953.6,1475.5L953.6,1488" stroke-width="0.6"/>
<path d="M876,1474.2L1047.5,1474.2" stroke-width="1"/>
<path d="M900.4,1300.6L905.4,1299.7L905.4,1301.5ZM1013.6,1300.6L1008.6,1301.5L1008.6,1299.7ZM1045.6,1326.8L1046.5,1331.8L1044.7,1331.8ZM1045.6,1474L1044.7,1469.0L1046.5,1469.0ZM924,1503.9L929.0,1503.0L929.0,1504.8ZM989.3,1503.9L984.3,1504.8L984.3,1503.0ZM911.5,1529.7L916.5,1528.8L916.5,1530.6ZM1001,1529.7L996.0,1530.6L996.0,1528.8ZM898.8,1559.3L903.8,1558.4L903.8,1560.2ZM1014.6,1559.3L1009.6,1560.2L1009.6,1558.4ZM953.6,1463L952.7,1458.0L954.5,1458.0ZM953.6,1475.2L954.5,1480.2L952.7,1480.2Z" fill="#231f20" stroke="none"/>
<g fill="#231f20" stroke="none" font-family="Liberation Serif,serif" font-size="9.5"><text x="957" y="1298" text-anchor="middle" textLength="4.2" lengthAdjust="spacingAndGlyphs">F</text><text transform="translate(1044,1400) rotate(-90)" text-anchor="middle" textLength="4.2" lengthAdjust="spacingAndGlyphs">C</text><text x="957" y="1501.5" text-anchor="middle" textLength="2.5" lengthAdjust="spacingAndGlyphs">I</text><text x="957" y="1527.5" text-anchor="middle" textLength="4.2" lengthAdjust="spacingAndGlyphs">H</text><text x="957" y="1557" text-anchor="middle" textLength="4.2" lengthAdjust="spacingAndGlyphs">B</text><text transform="translate(950.5,1469.5) rotate(-90)" text-anchor="middle" textLength="4" lengthAdjust="spacingAndGlyphs">K</text></g>
</svg>
</div></body></html>
